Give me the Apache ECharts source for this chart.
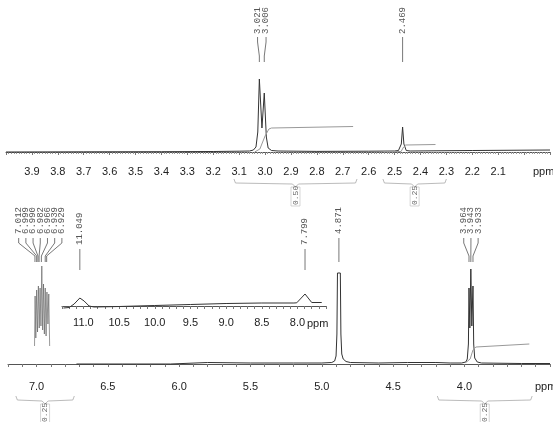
<!DOCTYPE html>
<html>
<head>
<meta charset="utf-8">
<script src="https://cdn.jsdelivr.net/npm/echarts@6/dist/echarts.min.js"></script>
<style>
  html, body { margin: 0; background: #fff; }
  #main { width: 553px; height: 422px; }
</style>
</head>
<body>
<div id="main"></div>
<script>
// ---- top panel (4.0 - 1.9 ppm) ----
const topTrace = [
  [4.0, 0], [3.7, 0.2], [3.4, 0.3], [3.2, 0.5], [3.1, 0.8], [3.06, 1], [3.045, 2], [3.035, 5],
  [3.028, 20], [3.022, 73], [3.012, 24], [3.003, 59], [2.995, 15], [2.988, 4], [2.975, 1.5],
  [2.95, 1], [2.8, 0.6], [2.6, 0.8], [2.5, 1], [2.485, 1.5], [2.474, 8], [2.469, 25], [2.464, 8],
  [2.455, 1.5], [2.44, 1], [2.2, 1.5], [1.9, 2]
];
const topIntegralA = [[3.04, 0], [3.02, 3], [3.0, 16], [2.985, 23], [2.975, 24], [2.66, 25.5]];
const topIntegralB = [[2.545, 0.3], [2.475, 0.5], [2.465, 5], [2.457, 7], [2.342, 7.5]];
const topTickLabels = ['3.9', '3.8', '3.7', '3.6', '3.5', '3.4', '3.3', '3.2', '3.1', '3.0',
  '2.9', '2.8', '2.7', '2.6', '2.5', '2.4', '2.3', '2.2', '2.1'];
const topPeakText = ['3.021', '3.006', '2.469'];
const topPeakPpm = [3.022, 3.003, 2.469];
const topIntText = ['0.50', '0.25'];
const topIntFrom = [3.12, 2.545];
const topIntTo = [2.645, 2.30];

// ---- bottom panel (7.2 - 3.4 ppm) ----
const bottomTrace = [
  [6.72, 0], [6.4, 0], [6.06, 0], [6.05, 1], [5.8, 1.5], [5.5, 1], [5.2, 1], [5.0, 1],
  [4.93, 1.5], [4.91, 3], [4.9, 8], [4.894, 30], [4.89, 91], [4.87, 91], [4.866, 30], [4.86, 10],
  [4.85, 5], [4.83, 2.5], [4.8, 1.5], [4.6, 1], [4.4, 1.5], [4.2, 1.5], [4.1, 1], [4.02, 1],
  [3.99, 2], [3.98, 5], [3.972, 20], [3.968, 76], [3.962, 36], [3.955, 95], [3.948, 38],
  [3.94, 78], [3.935, 20], [3.928, 6], [3.91, 2], [3.88, 1], [3.6, 0.5], [3.4, 0.5]
];
const aromatic = [
  [7.014, 18], [7.010, 68], [7.005, 26], [6.999, 74], [6.993, 32], [6.987, 78], [6.981, 36],
  [6.975, 76], [6.969, 38], [6.963, 98], [6.957, 34], [6.951, 80], [6.945, 30], [6.939, 76],
  [6.933, 28], [6.927, 72], [6.920, 40], [6.914, 70], [6.908, 18]
];
const bottomIntegral = [[3.99, 1.5], [3.96, 5], [3.94, 14], [3.92, 17], [3.545, 20]];
const bottomTickLabels = ['7.0', '6.5', '6.0', '5.5', '5.0', '4.5', '4.0'];
const bottomPeakText = ['7.012', '6.999', '6.990', '6.982', '6.966', '6.939', '6.929', '4.871', '3.964', '3.943', '3.933'];
const bottomPeakPpm = [7.011, 6.999, 6.99, 6.982, 6.966, 6.939, 6.929, 4.88, 3.968, 3.955, 3.94];
const bottomIntText = ['0.25', '0.25'];
const bottomIntFrom = [7.145, 4.19];
const bottomIntTo = [6.735, 3.525];

// ---- inset (11.3 - 7.6 ppm) ----
const insetTrace = [
  [11.28, -2], [11.2, -1.5], [11.13, 2], [11.05, 8], [10.99, 5], [10.92, 0], [10.85, -1],
  [10.5, -0.5], [10.0, 0.5], [9.5, 1.5], [9.0, 2.5], [8.5, 3], [8.05, 3], [8.01, 3.2],
  [7.894, 12], [7.8, 3.5], [7.66, 3.5]
];
const insetTickLabels = ['11.0', '10.5', '10.0', '9.5', '9.0', '8.5', '8.0'];
const insetPeakText = ['11.049', '7.799'];
const insetPeakPpm = [11.05, 7.894];

const chart = echarts.init(document.getElementById('main'));

const traceColor = '#333';
const labelFont = '9px "Liberation Mono", "DejaVu Sans Mono", monospace';

function axisFor(grid, min, max, labels, margin, minor) {
  return {
    type: 'value', gridIndex: grid, min: min, max: max, inverse: true, interval: 0.1,
    axisLine: { lineStyle: { color: '#555', width: 1 } },
    axisTick: { length: 3, lineStyle: { color: '#777' } },
    minorTick: { show: minor, splitNumber: 10, length: 2, lineStyle: { color: '#999' } },
    splitLine: { show: false },
    axisLabel: {
      margin: margin, fontSize: 11, color: '#222', fontFamily: '"Liberation Sans", Arial',
      formatter: v => { const s = v.toFixed(1); return labels.includes(s) ? s : ''; }
    }
  };
}

function lineSeries(x, data, color, width) {
  return {
    type: 'line', xAxisIndex: x, yAxisIndex: x, data: data, showSymbol: false, symbol: 'none',
    lineStyle: { color: color, width: width || 1 }, silent: true
  };
}

chart.setOption({
  animation: false,
  backgroundColor: '#fff',
  grid: [
    { left: 6, top: 52, width: 547, height: 108 },
    { left: 8, top: 264, width: 543, height: 110 },
    { left: 62, top: 286, width: 264, height: 24 }
  ],
  xAxis: [
    axisFor(0, 1.9, 4.0, topTickLabels, 6, true),
    axisFor(1, 3.4, 7.2, bottomTickLabels, 7, false),
    axisFor(2, 7.6, 11.3, insetTickLabels, 7, false)
  ],
  yAxis: [
    { type: 'value', gridIndex: 0, min: -8, max: 100, show: false },
    { type: 'value', gridIndex: 1, min: -10, max: 100, show: false },
    { type: 'value', gridIndex: 2, min: -4, max: 20, show: false }
  ],
  series: [
    lineSeries(0, topTrace, traceColor),
    lineSeries(0, topIntegralA, '#999'),
    lineSeries(0, topIntegralB, '#999'),
    lineSeries(1, bottomTrace, traceColor),
    lineSeries(1, aromatic, '#555', 0.6),
    lineSeries(1, bottomIntegral, '#999'),
    lineSeries(2, insetTrace, traceColor)
  ]
});

function px(axis, ppm) {
  return chart.convertToPixel({ xAxisIndex: axis }, ppm);
}

const graphics = [];

// peak labels: rotated text with lines fanning down to the peaks
function peakLabels(axis, texts, ppms, spacing, textBottom, lineTop, lineBottom) {
  const pxs = ppms.map(p => px(axis, p));
  const groups = [];
  let cur = [0];
  for (let i = 1; i < pxs.length; i++) {
    if (pxs[i] - pxs[i - 1] < 14) cur.push(i);
    else { groups.push(cur); cur = [i]; }
  }
  groups.push(cur);
  groups.forEach(g => {
    const mean = g.reduce((s, i) => s + pxs[i], 0) / g.length;
    g.forEach((idx, k) => {
      const lx = mean + (k - (g.length - 1) / 2) * spacing;
      graphics.push({
        type: 'text', x: lx, y: textBottom, rotation: Math.PI / 2, silent: true,
        style: { text: texts[idx], font: labelFont, fill: '#555', align: 'left', verticalAlign: 'middle' }
      });
      graphics.push({
        type: 'polyline', silent: true,
        shape: { points: [[lx, lineTop], [lx, lineTop + 5], [pxs[idx], lineBottom - 6], [pxs[idx], lineBottom]] },
        style: { stroke: '#555', lineWidth: 0.8, fill: null }
      });
    });
  });
}

// integration brackets under the axis
function brackets(axis, texts, from, to, y0) {
  texts.forEach((t, i) => {
    const x1 = px(axis, from[i]), x2 = px(axis, to[i]);
    const xc = (x1 + x2) / 2;
    graphics.push({
      type: 'polyline', silent: true,
      shape: { points: [[x1, y0 - 4], [x1 + 1.5, y0], [xc - 3, y0 + 1], [xc, y0 + 4], [xc + 3, y0 + 1], [x2 - 1.5, y0], [x2, y0 - 4]] },
      style: { stroke: '#aaa', lineWidth: 0.8, fill: null }
    });
    graphics.push({
      type: 'rect', silent: true,
      shape: { x: xc - 4.5, y: y0 + 4, width: 9, height: 19 },
      style: { stroke: '#bbb', lineWidth: 0.6, fill: null }
    });
    graphics.push({
      type: 'text', x: xc, y: y0 + 22, rotation: Math.PI / 2, silent: true,
      style: { text: t, font: '8px "Liberation Mono", monospace', fill: '#666', align: 'left', verticalAlign: 'middle' }
    });
  });
}

peakLabels(0, topPeakText, topPeakPpm, 8.5, 34, 37, 62);
peakLabels(1, bottomPeakText, bottomPeakPpm, 7.2, 234, 238, 262);
peakLabels(2, insetPeakText, insetPeakPpm, 8, 245, 249, 270);
brackets(0, topIntText, topIntFrom, topIntTo, 183);
brackets(1, bottomIntText, bottomIntFrom, bottomIntTo, 400);

const ppmStyle = { text: 'ppm', font: '11px "Liberation Sans", Arial', fill: '#222', verticalAlign: 'middle' };
graphics.push({ type: 'text', x: 533, y: 172, style: Object.assign({}, ppmStyle) });
graphics.push({ type: 'text', x: 535, y: 387, style: Object.assign({}, ppmStyle) });
graphics.push({ type: 'text', x: 307, y: 324, style: Object.assign({}, ppmStyle) });

chart.setOption({ graphic: graphics });
</script>
</body>
</html>
